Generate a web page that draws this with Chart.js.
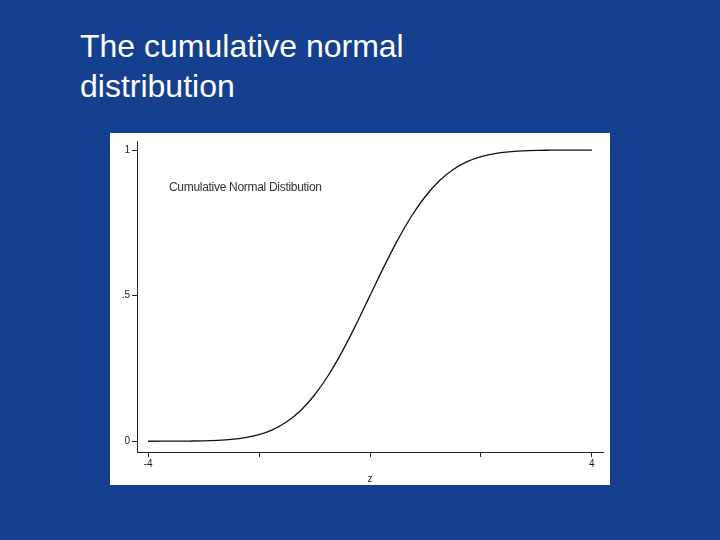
<!DOCTYPE html>
<html><head><meta charset="utf-8">
<script src="https://cdn.jsdelivr.net/npm/chart.js@4"></script>
<style>
body{margin:0;width:720px;height:540px;background:#15408f;overflow:hidden;font-family:"Liberation Sans",Arial,sans-serif;position:relative}
#title{position:absolute;left:80px;top:26px;color:#fff;font-size:32px;line-height:40px}
#panel{position:absolute;left:110px;top:133px;width:500px;height:352px;background:#fff}
#inner{position:absolute;left:59px;top:47px;font-size:12px;color:#333;letter-spacing:-0.3px}
</style></head><body>
<div id="title">The cumulative normal<br>distribution</div>
<div id="panel"><canvas id="c" width="500" height="352"></canvas><div id="inner">Cumulative Normal Distibution</div></div>
<script>
const zValues = [-4,-3.75,-3.5,-3.25,-3,-2.75,-2.5,-2.25,-2,-1.75,-1.5,-1.25,-1,-0.75,-0.5,-0.25,0,0.25,0.5,0.75,1,1.25,1.5,1.75,2,2.25,2.5,2.75,3,3.25,3.5,3.75,4];
const cdfValues = [0.0000,0.0001,0.0002,0.0006,0.0013,0.0030,0.0062,0.0122,0.0228,0.0401,0.0668,0.1056,0.1587,0.2266,0.3085,0.4013,0.5,0.5987,0.6915,0.7734,0.8413,0.8944,0.9332,0.9599,0.9772,0.9878,0.9938,0.9970,0.9987,0.9994,0.9998,0.9999,1.0000];
const xTicks = [-4,-2,0,2,4];
const xLabels = {'-4':'-4','4':'4'};
const yTicks = [0,0.5,1];
const yLabels = {'0':'0','0.5':'.5','1':'1'};
new Chart(document.getElementById('c'), {
  type:'line',
  data:{datasets:[{data:zValues.map((z,i)=>({x:z,y:cdfValues[i]})),borderColor:'#111',borderWidth:1.3,pointRadius:0,tension:0.4,cubicInterpolationMode:'monotone'}]},
  options:{responsive:false,animation:false,events:[],
    layout:{padding:{top:5,right:7}},
    plugins:{legend:{display:false},tooltip:{enabled:false}},
    scales:{
      x:{type:'linear',min:-4.2,max:4.2,
        afterBuildTicks:s=>{s.ticks=xTicks.map(v=>({value:v}));},
        afterFit:s=>{s.height=33;},
        grid:{drawOnChartArea:false,tickLength:5,color:'#222'},border:{color:'#222'},
        ticks:{color:'#222',font:{size:10},padding:1,maxRotation:0,autoSkip:false,callback:v=>xLabels[String(v)]||''},
        title:{display:true,text:'z',color:'#222',font:{size:10},padding:{top:2,bottom:0}}},
      y:{min:-0.037,max:1.031,
        afterBuildTicks:s=>{s.ticks=yTicks.map(v=>({value:v}));},
        afterFit:s=>{s.width=27;},
        grid:{drawOnChartArea:false,tickLength:5,color:'#222'},border:{color:'#222'},
        ticks:{color:'#222',font:{size:10},padding:2,autoSkip:false,callback:v=>yLabels[String(v)]||''}}
    }}
});
</script></body></html>
